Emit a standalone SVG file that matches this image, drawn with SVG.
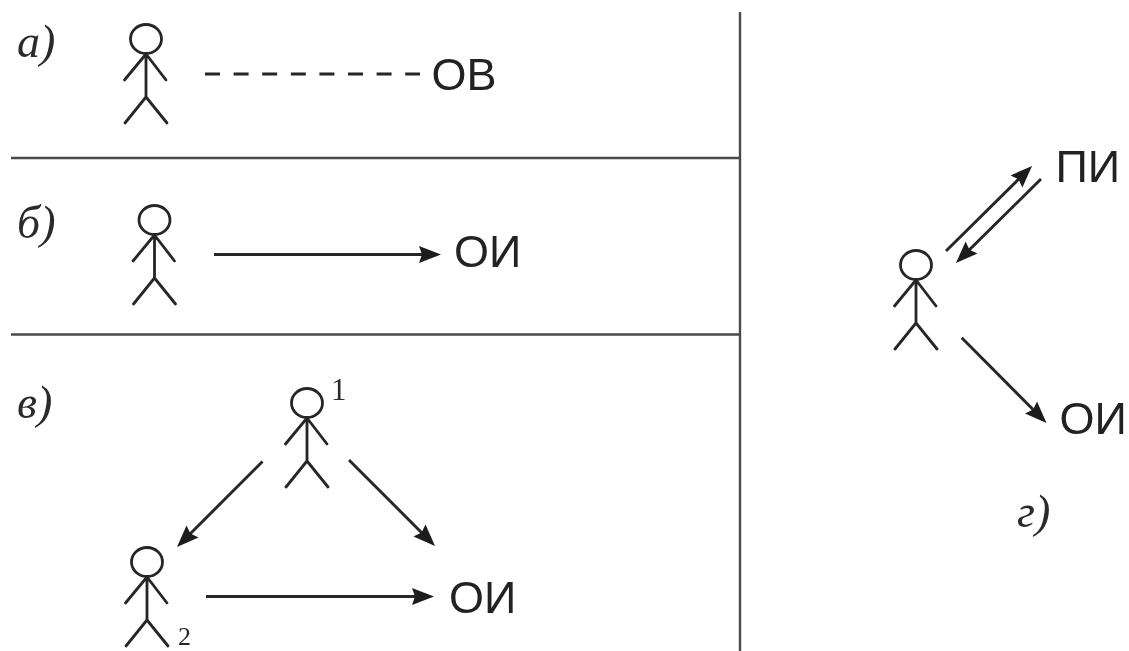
<svg xmlns="http://www.w3.org/2000/svg" width="1129" height="651" viewBox="0 0 1129 651">
<style>
.fig{fill:none;stroke:#262626;stroke-width:2.8;stroke-linecap:round;stroke-linejoin:round}
.rule{fill:none;stroke:#4a4a4a;stroke-width:2.4}
.conn{fill:none;stroke:#262626;stroke-width:2.9;stroke-linecap:butt}
.dash{stroke-dasharray:15 13.6}
.big{font-family:"Liberation Sans",Arial,sans-serif;font-size:45px;fill:#222}
.cap{font-family:"Liberation Serif","Times New Roman",serif;font-style:italic;font-size:46px;fill:#2a2a2a}
.num{font-family:"Liberation Serif","Times New Roman",serif;font-size:31px;fill:#2a2a2a}
.soft{filter:url(#soft)}
</style>
<defs>
<filter id="soft" filterUnits="userSpaceOnUse" x="0" y="0" width="1129" height="651"><feGaussianBlur stdDeviation="0.45"/></filter>
<marker id="ah" markerUnits="userSpaceOnUse" markerWidth="26" markerHeight="18" refX="17" refY="9" orient="auto" viewBox="0 0 26 18">
<path d="M0 0.500L22 9L0 17.500L3 9Z" fill="#1c1c1c"/>
</marker>
<g id="man" class="fig">
<ellipse cx="0" cy="0" rx="15.500" ry="14.500"/>
<path d="M0 15V58M0 15L-21.500 41M0 15L20 41M0 58L-21 84M0 58L21 84"/>
</g>
</defs>
<rect width="1129" height="651" fill="#fff"/>
<g id="dividers" class="soft">
<path class="rule" d="M11 158H740M11 334.500H740M740 12V651"/>
</g>
<g id="connectors" class="soft">
<path class="conn dash" d="M205 74H420"/>
<path class="conn" d="M214 254.500H436" marker-end="url(#ah)"/>
<path class="conn" d="M262.500 461.500L180.500 543.500" marker-end="url(#ah)"/>
<path class="conn" d="M349 460L431.500 542.500" marker-end="url(#ah)"/>
<path class="conn" d="M206 596.500H429" marker-end="url(#ah)"/>
<path class="conn" d="M946 251L1028.500 169.500" marker-end="url(#ah)"/>
<path class="conn" d="M1041 179L959.500 259.500" marker-end="url(#ah)"/>
<path class="conn" d="M961.700 337.700L1043 419.500" marker-end="url(#ah)"/>
</g>
<g id="node-a" class="soft">
<use href="#man" x="146" y="39"/>
<text class="cap" x="17" y="57">а)</text>
<text class="big" x="431.500" y="90">ОВ</text>
</g>
<g id="node-b" class="soft">
<use href="#man" x="154.500" y="220"/>
<text class="cap" x="17" y="238">б)</text>
<text class="big" x="454" y="267">ОИ</text>
</g>
<g id="node-v1" class="soft">
<use href="#man" x="307" y="403"/>
<text class="num" x="331" y="400">1</text>
<text class="cap" x="17" y="418">в)</text>
</g>
<g id="node-v2" class="soft">
<use href="#man" x="147" y="562"/>
<text class="num" x="178" y="645" style="font-size:26px">2</text>
<text class="big" x="449" y="613">ОИ</text>
</g>
<g id="node-g" class="soft">
<use href="#man" x="916" y="265"/>
<text class="big" x="1055.500" y="182">ПИ</text>
<text class="big" x="1059.500" y="434">ОИ</text>
<text class="cap" x="1017" y="527">г)</text>
</g>
</svg>
